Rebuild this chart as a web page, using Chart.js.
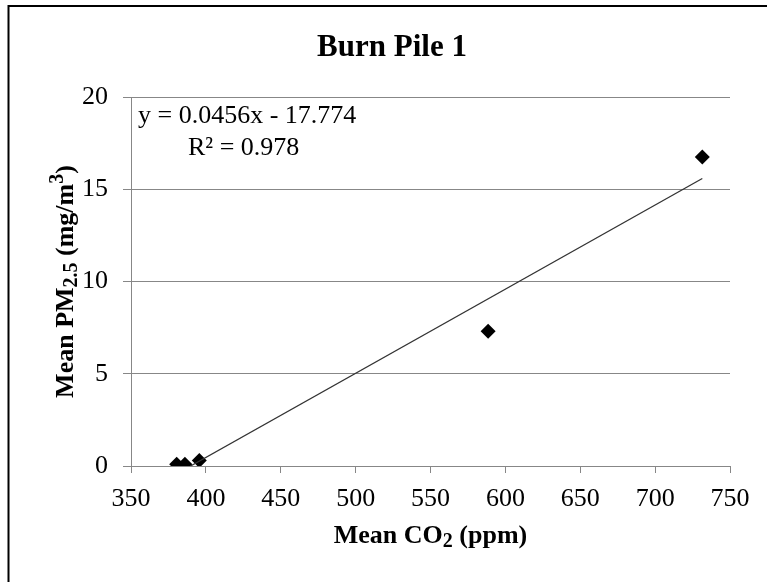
<!DOCTYPE html>
<html>
<head>
<meta charset="utf-8">
<script src="https://cdn.jsdelivr.net/npm/chart.js@4/dist/chart.umd.min.js"></script>
<style>
  html, body { margin: 0; padding: 0; background: #fff; }
  canvas { display: block; }
</style>
</head>
<body>
<canvas id="burnPileChart" width="767" height="582"></canvas>
<script>
// Datos
const co2Values = [380.5, 386, 395.6, 588.5, 731.5];   // Mean CO2 (ppm)
const pmValues = [0.1, 0.1, 0.3, 7.3, 16.75];           // Mean PM2.5 (mg/m3)
const trendX = [389.8, 731.5];
const trendY = [0, 15.58];
const xTicks = [350, 400, 450, 500, 550, 600, 650, 700, 750];
const yTicks = [0, 5, 10, 15, 20];

const SERIF = "'Liberation Serif', 'Times New Roman', serif";
const GRID_COLOR = '#878787';

// dibuja texto con subíndices / superíndices
function drawRich(ctx, parts, x, y, size, align) {
    const small = Math.round(size * 0.75);
    let total = 0;
    parts.forEach(p => {
        ctx.font = 'bold ' + (p.sub || p.sup ? small : size) + 'px ' + SERIF;
        p.w = ctx.measureText(p.t).width;
        total += p.w;
    });
    let cx = align === 'center' ? x - total / 2 : x;
    ctx.textAlign = 'left';
    ctx.textBaseline = 'alphabetic';
    parts.forEach(p => {
        ctx.font = 'bold ' + (p.sub || p.sup ? small : size) + 'px ' + SERIF;
        const dy = p.sub ? 4 : (p.sup ? -10 : 0);
        ctx.fillText(p.t, cx, y + dy);
        cx += p.w;
    });
}

const decorations = {
    id: 'decorations',
    afterDraw(chart) {
        const ctx = chart.ctx;
        const area = chart.chartArea;
        ctx.save();
        ctx.fillStyle = '#000';

        // marco
        ctx.strokeStyle = '#000';
        ctx.lineWidth = 2;
        ctx.beginPath();
        ctx.moveTo(8.5, 582);
        ctx.lineTo(8.5, 6);
        ctx.lineTo(767, 6);
        ctx.stroke();

        // título
        ctx.font = 'bold 31px ' + SERIF;
        ctx.textAlign = 'center';
        ctx.textBaseline = 'alphabetic';
        ctx.fillText('Burn Pile 1', 392, 56);

        // ecuación de la tendencia
        ctx.font = '26px ' + SERIF;
        ctx.textAlign = 'left';
        ctx.fillText('y = 0.0456x - 17.774', 138, 123);
        ctx.fillText('R² = 0.978', 188, 155);

        // título eje X
        drawRich(ctx, [{t: 'Mean CO'}, {t: '2', sub: true}, {t: ' (ppm)'}],
            (area.left + area.right) / 2, 543, 26, 'center');

        // título eje Y
        ctx.translate(73, (area.top + area.bottom) / 2);
        ctx.rotate(-Math.PI / 2);
        drawRich(ctx, [{t: 'Mean PM'}, {t: '2.5', sub: true}, {t: ' (mg/m'}, {t: '3', sup: true}, {t: ')'}],
            0, 0, 26, 'center');
        ctx.restore();
    }
};

const ctx = document.getElementById('burnPileChart');

new Chart(ctx, {
    type: 'scatter',
    data: {
        datasets: [
            {
                label: 'Linear (Burn Pile 1)',
                type: 'line',
                data: trendX.map((x, i) => ({x: x, y: trendY[i]})),
                borderColor: '#333333',
                borderWidth: 1.3,
                pointRadius: 0,
                fill: false
            },
            {
                label: 'Burn Pile 1',
                data: co2Values.map((x, i) => ({x: x, y: pmValues[i]})),
                pointStyle: 'rectRot',
                pointRadius: 7.5,
                backgroundColor: '#000',
                borderColor: '#000',
                borderWidth: 0
            }
        ]
    },
    options: {
        responsive: false,
        animation: false,
        layout: { padding: { top: 97, right: 37, left: 0, bottom: 0 } },
        plugins: {
            legend: { display: false },
            tooltip: { enabled: false }
        },
        scales: {
            x: {
                type: 'linear',
                min: 350,
                max: 750,
                afterBuildTicks: s => { s.ticks = xTicks.map(v => ({value: v})); },
                afterFit: s => { s.height = 116; },
                ticks: { color: '#000', font: { family: SERIF, size: 26 }, padding: 11 },
                grid: { drawOnChartArea: false, tickLength: 7, color: GRID_COLOR },
                border: { color: GRID_COLOR }
            },
            y: {
                min: 0,
                max: 20,
                afterBuildTicks: s => { s.ticks = yTicks.map(v => ({value: v})); },
                afterFit: s => { s.width = 131; },
                ticks: { color: '#000', font: { family: SERIF, size: 26 }, padding: 15 },
                grid: { color: GRID_COLOR, tickLength: 8 },
                border: { color: GRID_COLOR }
            }
        }
    },
    plugins: [decorations]
});
</script>
</body>
</html>
